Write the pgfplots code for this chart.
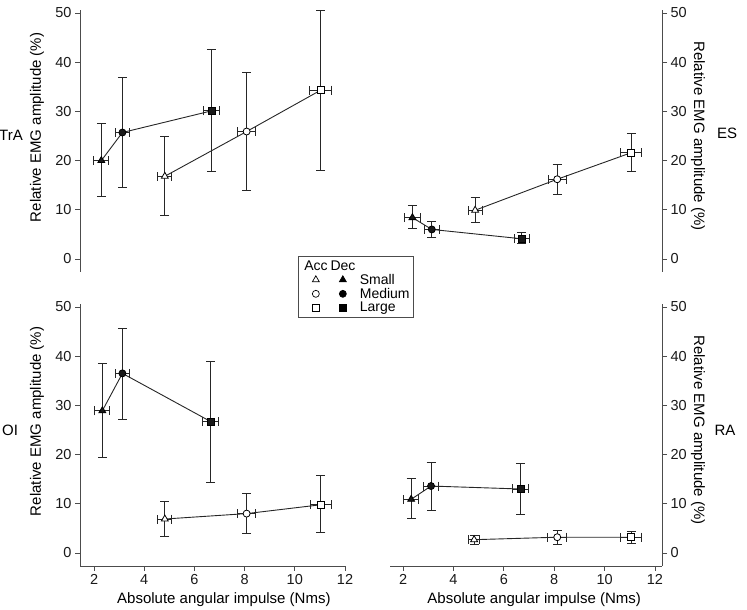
\documentclass[border=0pt]{standalone}
\usepackage{pgfplots}
\usepackage{pgfplotstable}
\pgfplotsset{compat=1.18}
\usepackage{fontspec}
\setmainfont{Liberation Sans}
\newcommand{\lab}{\fontsize{15}{18}\selectfont}
\newcommand{\lgf}{\fontsize{14}{16}\selectfont}

% columns: x, x error, y, y error plus, y error minus, class (s=small, m=medium, l=large)
\pgfplotstableread{
x xe y yp ym c
4.82 0.28 16.8 8.2 8.0 s
8.08 0.37 25.9 12.1 12.0 m
11.03 0.43 34.3 16.2 16.4 l
}\TrAacc
\pgfplotstableread{
x xe y yp ym c
2.29 0.30 20.0 7.6 7.2 s
3.13 0.29 25.7 11.1 11.1 m
6.68 0.32 30.1 12.4 12.4 l
}\TrAdec
\pgfplotstableread{
x xe y yp ym c
4.86 0.28 9.9 2.7 2.4 s
8.12 0.36 16.2 3.1 3.0 m
11.06 0.42 21.6 3.9 3.9 l
}\ESacc
\pgfplotstableread{
x xe y yp ym c
2.37 0.30 8.4 2.5 2.3 s
3.14 0.30 6.0 1.7 1.7 m
6.71 0.30 4.1 1.2 1.0 l
}\ESdec
\pgfplotstableread{
x xe y yp ym c
4.82 0.28 6.9 3.6 3.5 s
8.08 0.37 8.0 4.0 4.0 m
11.04 0.43 9.8 5.9 5.7 l
}\OIacc
\pgfplotstableread{
x xe y yp ym c
2.33 0.30 28.9 9.7 9.5 s
3.13 0.29 36.5 9.1 9.3 m
6.65 0.32 26.7 12.2 12.3 l
}\OIdec
\pgfplotstableread{
x xe y yp ym c
4.82 0.23 2.7 0.9 0.9 s
8.12 0.38 3.2 1.4 1.4 m
11.06 0.42 3.2 1.2 1.3 l
}\RAacc
\pgfplotstableread{
x xe y yp ym c
2.32 0.30 10.9 4.2 3.8 s
3.11 0.29 13.6 4.7 4.9 m
6.66 0.32 13.0 5.2 5.2 l
}\RAdec

\pgfplotsset{
  panel/.style={scale only axis, height=261.5pt, ymin=-2.65, ymax=50.5,
    ytick={0,10,20,30,40,50}, xtick={2,4,6,8,10,12},
    tick align=outside, major tick length=5pt, clip=false,
    every tick/.style={black!70, line width=0.9pt},
    tick label style={font=\fontsize{14.5}{16}\selectfont, text=black!90},
    /pgf/number format/assume math mode=true,
  },
  fin/.style={axis line style={-, draw=black!70, line width=0.9pt}},
  toprow/.style={axis x line=none, xtick=\empty},
  botrow/.style={axis x line*=bottom, xtick pos=left, xticklabel pos=left,
    xlabel={Absolute angular impulse (Nms)}},
  leftcol/.style={axis y line*=left, ytick pos=left, yticklabel pos=left,
    width=265pt, xmin=1.44, xmax=12,
    ylabel={Relative EMG amplitude (\%)},
    every axis y label/.style={at={(axis description cs:-0.162,0.553)}, rotate=90, anchor=center, font=\lab},
    every axis x label/.style={at={(axis description cs:0.543,-0.13)}, anchor=center, font=\lab}},
  rightcol/.style={axis y line*=right, ytick pos=right, yticklabel pos=right,
    width=272pt, xmin=1.48, xmax=12.28,
    ylabel={Relative EMG amplitude (\%)},
    every axis y label/.style={at={(axis description cs:1.132,0.52)}, rotate=-90, anchor=center, font=\lab},
    every axis x label/.style={at={(axis description cs:0.53,-0.13)}, anchor=center, font=\lab}},
  eline/.style={black!85, line width=0.9pt, mark=none,
    error bars/x dir=both, error bars/x explicit, error bars/y dir=both, error bars/y explicit,
    error bars/error mark=-,
    error bars/error mark options={rotate=90, mark size=4.5pt, line width=0.9pt, black!85},
    error bars/error bar style={line width=0.9pt, black!85}},
  marks/.style={scatter, only marks, point meta=explicit symbolic, line width=0.8pt},
  acc/.style={marks, scatter/classes={
      s={mark=triangle*, mark size=4pt, fill=white, draw=black},
      m={mark=*, mark size=3.5pt, fill=white, draw=black},
      l={mark=square*, mark size=3.5pt, fill=white, draw=black}}},
  dec/.style={marks, scatter/classes={
      s={mark=triangle*, mark size=4pt, fill=black!90, draw=black},
      m={mark=*, mark size=3.5pt, fill=black!90, draw=black},
      l={mark=square*, mark size=3.5pt, fill=black!90, draw=black}}},
}
\newcommand{\series}[2]{%
  \addplot[forget plot, eline] table[x=x, y=y, x error=xe, y error plus=yp, y error minus=ym] {#1};
  \addplot[forget plot, #2] table[x=x, y=y, meta=c] {#1};
}
% legend glyph: #1 mark, #2 fill, #3 size
\newcommand{\mk}[3]{\makebox[27pt]{\tikz[baseline=-0.6ex]\draw[black, line width=0.7pt, mark options={fill=#2, draw=black}] plot[mark=#1, mark size=#3] coordinates {(0pt,0pt)};}}

\begin{document}
\begin{tikzpicture}[x=1pt,y=1pt]
\useasboundingbox (0,0) rectangle (747,610);

% ---------- TrA (top left)
\begin{axis}[panel, leftcol, toprow, fin, at={(80pt,338pt)}, anchor=south west,
  legend cell align=left,
  legend style={at={(axis description cs:0.8226,0.0612)}, anchor=north west,
    draw=black!70, line width=0.7pt, font=\lgf,
    nodes={inner ysep=1.2pt, inner xsep=1pt}, inner xsep=3pt, inner ysep=3pt}]
\series{\TrAacc}{acc}
\series{\TrAdec}{dec}
\addlegendimage{empty legend}\addlegendentry{\lgf\makebox[27pt]{Acc}\makebox[27pt]{Dec}}
\addlegendimage{empty legend}\addlegendentry{\lgf\mk{triangle*}{white}{4pt}\mk{triangle*}{black}{4pt}\hspace{3.5pt}Small}
\addlegendimage{empty legend}\addlegendentry{\lgf\mk{*}{white}{3.5pt}\mk{*}{black}{3.5pt}\hspace{3.5pt}Medium}
\addlegendimage{empty legend}\addlegendentry{\lgf\mk{square*}{white}{3.5pt}\mk{square*}{black}{3.5pt}\hspace{3.5pt}Large}
\end{axis}

% ---------- ES (top right)
\begin{axis}[panel, rightcol, toprow, fin, at={(390pt,338pt)}, anchor=south west]
\series{\ESacc}{acc}
\series{\ESdec}{dec}
\end{axis}

% ---------- OI (bottom left)
\begin{axis}[panel, leftcol, botrow, fin, at={(80pt,44pt)}, anchor=south west]
\series{\OIacc}{acc}
\series{\OIdec}{dec}
\end{axis}

% ---------- RA (bottom right)
\begin{axis}[panel, rightcol, botrow, fin, at={(390pt,44pt)}, anchor=south west]
\series{\RAacc}{acc}
\series{\RAdec}{dec}
\end{axis}

\node[font=\lab] at (11,475) {TrA};
\node[font=\lab] at (727,477) {ES};
\node[font=\lab] at (10,180) {OI};
\node[font=\lab] at (725,180) {RA};
\end{tikzpicture}
\end{document}
